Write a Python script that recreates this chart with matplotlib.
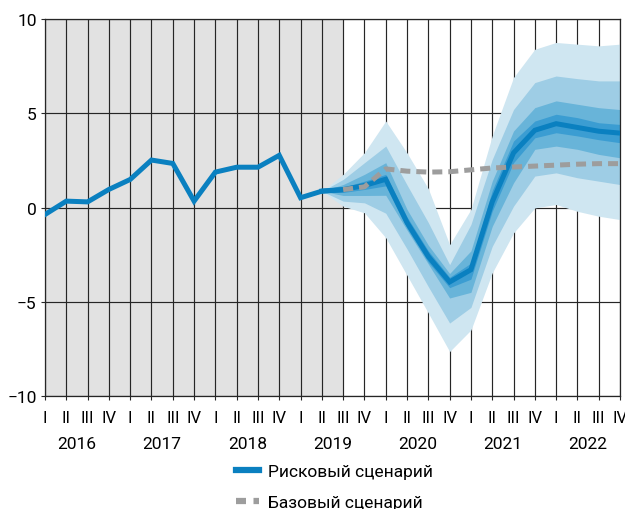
import matplotlib
matplotlib.use("Agg")
import matplotlib.pyplot as plt
import matplotlib.transforms as mtransforms
from matplotlib.lines import Line2D

plt.rcParams['font.family'] = ['Roboto', 'DejaVu Sans']

# ---------------- data ----------------
years = ['2016', '2017', '2018', '2019', '2020', '2021', '2022']
quarters = ['I', 'II', 'III', 'IV']

# history (quarter index 0..14)
hist_x = list(range(0, 15))
hist = [-0.37, 0.34, 0.30, 0.96, 1.49, 2.52, 2.34, 0.34, 1.88, 2.14, 2.14, 2.77, 0.52, 0.87, 0.95]

# fan chart (quarter index 13..27)
fan_x = list(range(13, 28))
risk   = [0.87, 0.95, 1.17, 1.50, -0.80, -2.60, -3.95, -3.30, 0.30, 2.90, 4.10, 4.45, 4.25, 4.05, 3.95]
b1_top = [0.87, 1.76, 2.91, 4.59, 2.90, 1.00, -1.97, -0.10, 3.80, 6.90, 8.40, 8.76, 8.67, 8.58, 8.67]
b2_top = [0.87, 1.49, 2.38, 3.26, 1.20, -0.80, -3.03, -0.90, 2.55, 5.20, 6.63, 6.98, 6.84, 6.72, 6.72]
b3_top = [0.87, 1.22, 1.76, 2.38, -0.10, -2.00, -3.50, -2.30, 1.40, 4.06, 5.30, 5.66, 5.48, 5.30, 5.20]
b4_top = [0.87, 1.08, 1.40, 1.76, -0.50, -2.30, -3.70, -2.95, 0.90, 3.53, 4.59, 4.95, 4.77, 4.50, 4.41]
b4_bot = [0.87, 0.80, 0.96, 1.15, -1.10, -2.90, -4.25, -3.80, -0.20, 2.38, 3.70, 3.97, 3.80, 3.60, 3.44]
b3_bot = [0.87, 0.64, 0.64, 0.65, -1.20, -3.00, -4.80, -4.50, -1.00, 1.31, 3.09, 3.26, 3.09, 2.82, 2.64]
b2_bot = [0.87, 0.34, 0.25, -0.30, -2.20, -4.20, -6.13, -5.30, -2.06, 0.07, 1.67, 1.84, 1.58, 1.40, 1.22]
b1_bot = [0.87, 0.07, -0.28, -1.60, -3.60, -5.60, -7.64, -6.50, -3.47, -1.35, -0.02, 0.16, -0.20, -0.46, -0.64]

# base scenario (quarter index 14..27)
base_x = list(range(14, 28))
base = [0.95, 1.10, 2.05, 1.93, 1.88, 1.90, 2.00, 2.10, 2.15, 2.20, 2.25, 2.30, 2.33, 2.33]

labels = ['Рисковый сценарий', 'Базовый сценарий']

# ---------------- styles ----------------
c_line = '#0a80c0'
c_b1 = '#cfe6f1'
c_b2 = '#9ecde5'
c_b3 = '#68b4d9'
c_b4 = '#3b9dd2'
c_base = '#9d9d9d'
c_shade = '#e2e2e2'
c_grid = '#262626'

fig = plt.figure(figsize=(6.25, 5.10), dpi=100)
ax = fig.add_axes([0.072, 0.2216, 0.92, 0.739])

n = len(years) * len(quarters)
ax.set_xlim(0, n - 1)
ax.set_ylim(-10, 10)

# shaded history area
ax.axvspan(0, 14, color=c_shade, zorder=0.2, lw=0)

# grid
ax.set_axisbelow(True)
ax.set_xticks(range(n))
ax.set_yticks([-10, -5, 0, 5, 10])
ax.grid(True, color=c_grid, lw=0.85, zorder=0.5)

# fan
ax.fill_between(fan_x, b1_bot, b1_top, color=c_b1, lw=0, zorder=2)
ax.fill_between(fan_x, b2_bot, b2_top, color=c_b2, lw=0, zorder=2.1)
ax.fill_between(fan_x, b3_bot, b3_top, color=c_b3, lw=0, zorder=2.2)
ax.fill_between(fan_x, b4_bot, b4_top, color=c_b4, lw=0, zorder=2.3)

# lines
ax.plot(hist_x, hist, color=c_line, lw=3.6, solid_joinstyle='miter', zorder=3)
ax.plot(fan_x, risk, color=c_line, lw=3.6, solid_joinstyle='miter', zorder=3)
ax.plot(base_x, base, color=c_base, lw=3.6, dashes=(2.0, 1.2), zorder=3.5)

# ticks / labels
ax.set_xticklabels(quarters * len(years), fontsize=12)
ax.set_yticklabels(['−10', '−5', '0', '5', '10'], fontsize=12.5)
ax.tick_params(axis='x', length=3, width=0.8, pad=7, color=c_grid)
ax.tick_params(axis='y', length=3, width=0.8, pad=3, color=c_grid)
for s in ax.spines.values():
    s.set_color(c_grid)
    s.set_linewidth(0.9)

trans = mtransforms.blended_transform_factory(ax.transData, ax.transAxes)
for i, y in enumerate(years):
    ax.text(i * 4 + 1.5, -0.125, y, transform=trans, ha='center', va='center', fontsize=12.5)

handles = [Line2D([], [], color=c_line, lw=4.5),
           Line2D([], [], color=c_base, lw=4.5, dashes=(1.6, 1.2))]
fig.legend(handles, labels, loc='upper left', bbox_to_anchor=(0.378, 0.088),
           frameon=False, fontsize=12.5, handlelength=1.3, handletextpad=0.55,
           labelspacing=0.9, borderaxespad=0, borderpad=0)

fig.savefig('out.png', dpi=100)
